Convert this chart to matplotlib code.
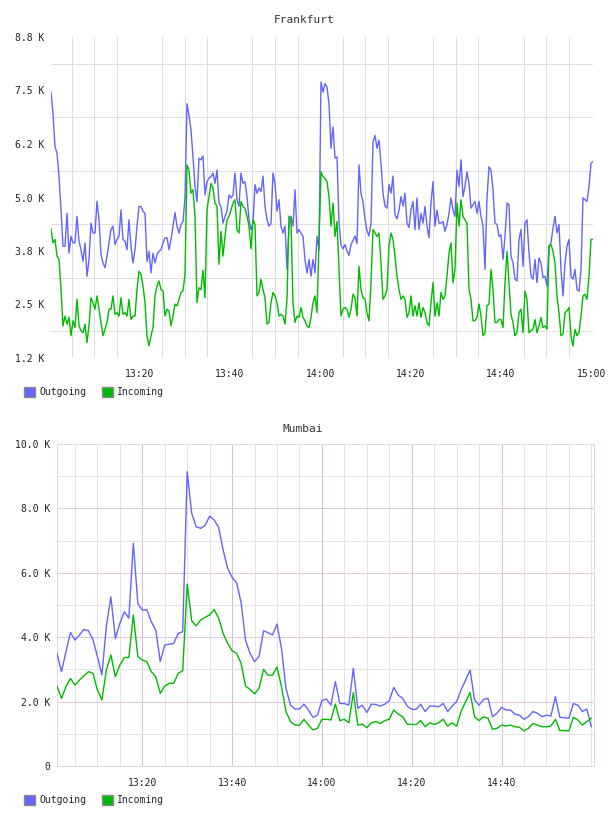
import numpy as np
import pandas as pd
import matplotlib
matplotlib.use("Agg")
import matplotlib.pyplot as plt
import matplotlib.dates as mdates
from matplotlib.patches import Rectangle
from matplotlib.ticker import FixedLocator

# ---------------- data ----------------
series_names = ["Outgoing", "Incoming"]
series_colors = ["#6464ff", "#00bb00"]

frankfurt_start = "2024-01-01 13:00:26"
frankfurt_step_ms = 26550
frankfurt_out_k = [
    7.46, 6.96, 6.19, 6.03, 5.49, 4.71, 3.86, 3.86, 4.63, 3.70,
    4.09, 3.94, 3.94, 4.56, 3.98, 3.78, 3.51, 3.94, 3.16, 3.55,
    4.40, 4.17, 4.17, 4.91, 4.48, 3.67, 3.47, 3.36, 3.63, 3.94,
    4.25, 4.33, 3.90, 4.02, 4.09, 4.71, 4.02, 3.98, 3.78, 4.48,
    3.86, 3.47, 3.78, 4.33, 4.79, 4.79, 4.68, 4.63, 3.51, 3.74,
    3.24, 3.70, 3.47, 3.67, 3.74, 3.78, 3.94, 4.06, 4.06, 3.78,
    4.02, 4.33, 4.65, 4.33, 4.17, 4.37, 4.44, 5.00,
    7.19, 6.92, 6.57, 5.95, 5.26, 4.90, 5.92, 5.88, 5.97, 5.06,
    5.37, 5.45, 5.49, 5.57, 5.33, 5.64, 4.87, 4.79, 4.40, 4.56,
    4.68, 5.06, 4.99, 5.06, 5.57, 4.95, 4.79, 5.57, 5.33, 5.37,
    5.02, 4.48, 4.25, 4.40, 5.30, 5.10, 5.22, 5.14, 5.50, 4.79,
    4.48, 4.33, 4.40, 5.57, 5.33, 4.68, 4.95, 4.33, 4.17, 4.33,
    3.32, 4.33, 4.56, 4.33, 5.18, 4.17, 4.25, 4.17, 4.09, 3.55,
    3.24, 3.55, 3.16, 3.55, 3.24, 4.09, 3.78,
    7.70, 7.46, 7.66, 7.58, 7.19, 6.15, 6.65, 5.92, 5.95, 4.40,
    3.90, 3.80, 3.90, 3.75, 3.65, 3.90, 4.00, 4.10, 3.92, 5.76,
    5.10, 4.90, 4.50, 4.22, 4.10, 4.40, 6.30, 6.45, 6.15, 6.34,
    5.80, 5.10, 4.80, 4.75, 5.30, 5.10, 5.50, 4.60, 4.50, 4.70,
    5.02, 4.80, 5.10, 4.40, 4.30, 4.71, 4.91, 4.25, 4.99, 4.25,
    4.63, 4.40, 4.79, 4.33, 4.06, 4.87, 5.37, 4.33, 4.71, 4.40,
    4.40, 4.44, 4.21, 4.37, 4.63, 4.99, 4.71,
    4.56, 5.64, 5.26, 5.88, 5.02, 5.26, 5.60, 5.33, 4.75, 4.83,
    4.91, 4.63, 4.91, 4.56, 4.33, 3.32, 4.99, 5.72, 5.64, 5.18,
    4.40, 4.37, 4.09, 4.13, 3.55, 4.09, 4.87, 4.83, 3.63, 3.47,
    3.09, 3.05, 4.02, 4.25, 3.39, 4.40, 4.48, 3.70, 3.16, 3.09,
    3.55, 3.01, 3.59, 3.47, 3.13, 3.16, 2.93, 3.86, 3.94, 4.29,
    4.56, 4.17, 4.37, 3.32, 2.70, 3.47, 3.86, 4.02, 3.16, 3.09,
    3.32, 2.85, 2.81, 3.32, 4.99, 4.95, 4.91, 5.26, 5.80, 5.84,
]
frankfurt_in_k = [
    4.27, 3.94, 4.02, 3.63, 3.55, 2.85, 2.00, 2.23, 2.04, 2.20,
    1.77, 2.12, 1.96, 2.62, 2.00, 1.89, 1.84, 2.04, 1.61, 2.00,
    2.66, 2.54, 2.39, 2.70, 2.39, 2.08, 1.77, 1.92, 2.08, 2.39,
    2.39, 2.70, 2.27, 2.31, 2.23, 2.66, 2.27, 2.31, 2.23, 2.62,
    2.15, 2.23, 2.23, 2.85, 3.28, 3.20, 2.93, 2.54, 1.77, 1.53,
    1.77, 1.96, 2.70, 2.93, 3.05, 2.85, 2.82, 2.23, 2.39, 2.35,
    2.00, 2.23, 2.51, 2.47, 2.62, 2.78, 2.82, 3.20,
    5.76, 5.64, 5.10, 5.18, 4.56, 2.54, 2.89, 2.85, 3.30, 2.66,
    4.71, 5.02, 5.33, 5.22, 4.87, 4.79, 3.44, 4.21, 3.63, 4.09,
    4.48, 4.56, 4.71, 4.87, 4.95, 4.25, 4.17, 4.91, 4.79, 4.75,
    4.56, 4.33, 3.80, 4.48, 4.37, 2.70, 2.78, 3.09, 2.85, 2.66,
    2.04, 2.08, 2.54, 2.78, 2.70, 2.54, 2.23, 2.27, 2.23, 2.04,
    2.62, 4.56, 4.48, 2.54, 2.08, 2.23, 2.20, 2.43, 2.20, 2.12,
    2.00, 1.96, 2.20, 2.54, 2.70, 2.31, 4.00,
    5.60, 5.49, 5.45, 5.37, 5.02, 4.33, 4.87, 4.09, 4.44, 3.32,
    2.23, 2.39, 2.43, 2.39, 2.20, 2.39, 2.74, 2.66, 2.23, 3.39,
    2.85, 2.66, 2.62, 2.31, 2.12, 3.01, 4.25, 4.17, 4.09, 4.17,
    3.47, 2.62, 2.70, 2.85, 3.86, 4.17, 4.02, 3.63, 3.16, 2.85,
    2.62, 2.70, 2.62, 2.20, 2.31, 2.70, 2.23, 2.47, 2.23, 2.54,
    2.20, 2.43, 2.31, 2.08, 2.00, 2.54, 3.01, 2.23, 2.54, 2.23,
    2.78, 2.62, 2.70, 3.16, 3.70, 3.94, 3.01,
    3.32, 4.87, 4.33, 4.95, 4.56, 4.48, 4.40, 2.85, 2.62, 2.12,
    2.12, 2.20, 2.51, 2.23, 1.77, 1.84, 2.47, 2.51, 3.32, 2.85,
    2.08, 2.08, 2.15, 2.15, 1.96, 3.01, 3.74, 3.01, 2.27, 2.08,
    1.77, 1.84, 2.31, 2.39, 1.84, 2.81, 2.62, 1.84, 1.89, 1.92,
    2.15, 1.84, 2.00, 2.20, 1.96, 2.00, 1.92, 3.86, 3.90, 3.74,
    3.47, 2.70, 2.31, 1.77, 1.81, 2.31, 2.35, 2.43, 1.77, 1.53,
    1.92, 1.77, 1.84, 2.23, 2.70, 2.74, 2.62, 3.16, 4.02, 4.02,
]

mumbai_start = "2024-01-01 13:01:00"
mumbai_step = "1min"
mumbai_out_k = [
    3.50, 2.93, 3.55, 4.15, 3.91, 4.07, 4.24, 4.20, 3.93, 3.40,
    2.83, 4.35, 5.25, 3.96, 4.43, 4.79, 4.59, 6.92, 5.05, 4.84,
    4.86, 4.48, 4.22, 3.24, 3.76, 3.78, 3.81, 4.12, 4.17, 9.14,
    7.85, 7.43, 7.38, 7.48, 7.76, 7.64, 7.41, 6.71, 6.14, 5.86,
    5.69, 5.08, 3.90, 3.50, 3.24, 3.40, 4.20, 4.14, 4.07, 4.41,
    3.65, 2.41, 1.89, 1.77, 1.77, 1.92, 1.74, 1.51, 1.58, 2.03,
    2.08, 1.89, 2.62, 1.94, 1.94, 1.89, 3.03, 1.79, 1.89, 1.66,
    1.92, 1.91, 1.86, 1.92, 2.03, 2.44, 2.20, 2.10, 1.86, 1.76,
    1.76, 1.92, 1.69, 1.86, 1.86, 1.84, 1.94, 1.69, 1.86, 2.00,
    2.36, 2.67, 2.98, 2.05, 1.89, 2.07, 2.10, 1.53, 1.64, 1.82,
    1.74, 1.74, 1.61, 1.58, 1.45, 1.53, 1.69, 1.64, 1.53, 1.58,
    1.55, 2.15, 1.51, 1.50, 1.48, 1.94, 1.89, 1.69, 1.77, 1.22,
]
mumbai_in_k = [
    2.48, 2.10, 2.46, 2.72, 2.51, 2.67, 2.80, 2.93, 2.88, 2.36,
    2.05, 2.98, 3.45, 2.77, 3.14, 3.37, 3.37, 4.69, 3.40, 3.29,
    3.24, 2.93, 2.77, 2.26, 2.48, 2.57, 2.57, 2.88, 2.96, 5.65,
    4.51, 4.35, 4.53, 4.62, 4.69, 4.86, 4.59, 4.12, 3.81, 3.58,
    3.50, 3.19, 2.48, 2.38, 2.24, 2.41, 3.00, 2.82, 2.82, 3.08,
    2.46, 1.69, 1.38, 1.27, 1.27, 1.45, 1.27, 1.12, 1.17, 1.45,
    1.45, 1.43, 1.92, 1.41, 1.45, 1.34, 2.28, 1.27, 1.30, 1.19,
    1.34, 1.38, 1.32, 1.41, 1.45, 1.74, 1.61, 1.53, 1.30, 1.29,
    1.29, 1.41, 1.22, 1.34, 1.29, 1.34, 1.45, 1.24, 1.34, 1.24,
    1.69, 2.00, 2.28, 1.53, 1.41, 1.53, 1.48, 1.14, 1.17, 1.27,
    1.24, 1.27, 1.22, 1.20, 1.09, 1.17, 1.32, 1.27, 1.22, 1.22,
    1.24, 1.45, 1.10, 1.10, 1.09, 1.51, 1.43, 1.27, 1.38, 1.48,
]

frankfurt_yticks = [1250, 2500, 3750, 5000, 6250, 7500, 8750]
frankfurt_ylabels = ["1.2 K", "2.5 K", "3.8 K", "5.0 K", "6.2 K", "7.5 K", "8.8 K"]
frankfurt_xticks = ["13:20", "13:40", "14:00", "14:20", "14:40", "15:00"]
mumbai_yticks = [0, 2000, 4000, 6000, 8000, 10000]
mumbai_ylabels = ["0", "2.0 K", "4.0 K", "6.0 K", "8.0 K", "10.0 K"]
mumbai_xticks = ["13:20", "13:40", "14:00", "14:20", "14:40"]
day = "2024-01-01"

# ---------------- figure ----------------
W, H = 608, 816
fig = plt.figure(figsize=(W / 100, H / 100), dpi=100)
MONO = "DejaVu Sans Mono"
TXT = "#222222"
PX = 0.72  # one pixel in points


def fx(px):
    return px / W


def fy(py):
    return 1 - py / H


ax1 = fig.add_axes([fx(51), fy(358), fx(542), 321 / H])
ax2 = fig.add_axes([fx(57), fy(766), fx(537), 322 / H])

# Frankfurt
t1 = pd.date_range(frankfurt_start, periods=len(frankfurt_out_k), freq=f"{frankfurt_step_ms}ms")
ax1.plot(t1, np.array(frankfurt_out_k) * 1000, color=series_colors[0], lw=1.0, zorder=3)
ax1.plot(t1, np.array(frankfurt_in_k) * 1000, color=series_colors[1], lw=1.0, zorder=3)
ax1.set_xlim(t1[0], t1[-1])
ax1.set_ylim(frankfurt_yticks[0], frankfurt_yticks[-1])
for s in ax1.spines.values():
    s.set_visible(False)
ax1.set_yticks(frankfurt_yticks)
ax1.set_yticklabels(frankfurt_ylabels)
mids = [(a + b) / 2 for a, b in zip(frankfurt_yticks[:-1], frankfurt_yticks[1:])]
ax1.yaxis.set_minor_locator(FixedLocator(mids))
ax1.set_xticks(pd.to_datetime([f"{day} {s}" for s in frankfurt_xticks]))
ax1.set_xticklabels(frankfurt_xticks)
ax1.xaxis.set_minor_locator(mdates.MinuteLocator(byminute=range(0, 60, 5)))
ax1.set_axisbelow(True)
ax1.grid(False)
ax1.grid(which="minor", axis="both", color="#dedede", lw=PX)
ax1.tick_params(which="both", length=0)
ax1.tick_params(axis="y", pad=5, labelsize=7, labelcolor=TXT)
ax1.tick_params(axis="x", pad=8, labelsize=7, labelcolor=TXT)
for lab in ax1.get_xticklabels() + ax1.get_yticklabels():
    lab.set_fontfamily(MONO)

# Mumbai
t2 = pd.date_range(mumbai_start, periods=len(mumbai_out_k), freq=mumbai_step)
ax2.plot(t2, np.array(mumbai_out_k) * 1000, color=series_colors[0], lw=1.0, zorder=3)
ax2.plot(t2, np.array(mumbai_in_k) * 1000, color=series_colors[1], lw=1.0, zorder=3)
ax2.set_xlim(t2[0], t2[-1] + pd.Timedelta(seconds=36))
ax2.set_ylim(mumbai_yticks[0], mumbai_yticks[-1])
for s in ax2.spines.values():
    s.set_color("#e8d2e8")
    s.set_linewidth(PX)
ax2.set_yticks(mumbai_yticks)
ax2.set_yticklabels(mumbai_ylabels)
ax2.yaxis.set_minor_locator(FixedLocator(list(range(1000, 10000, 2000))))
ax2.set_xticks(pd.to_datetime([f"{day} {s}" for s in mumbai_xticks]))
ax2.set_xticklabels(mumbai_xticks)
ax2.xaxis.set_minor_locator(mdates.MinuteLocator(byminute=range(0, 60, 5)))
ax2.set_axisbelow(True)
ax2.grid(which="minor", axis="both", color="#e4e4e4", lw=PX)
ax2.grid(which="major", axis="x", color="#d8bcd8", lw=PX)
ax2.grid(which="major", axis="y", color="#e2c8e2", lw=PX)
ax2.tick_params(which="both", length=0)
ax2.tick_params(axis="y", pad=5, labelsize=7, labelcolor=TXT)
ax2.tick_params(axis="x", pad=9, labelsize=7, labelcolor=TXT)
for lab in ax2.get_xticklabels() + ax2.get_yticklabels():
    lab.set_fontfamily(MONO)

# titles
fig.text(fx(304.5), fy(20), "Frankfurt", ha="center", va="center",
         fontsize=8, family=MONO, color="#333333")
fig.text(fx(303), fy(429), "Mumbai", ha="center", va="center",
         fontsize=8, family=MONO, color="#333333")


# legends
def legend(yc):
    xs = [24, 102]
    for x0, name, col in zip(xs, series_names, series_colors):
        fig.add_artist(Rectangle((fx(x0), fy(yc + 5)), fx(11), 10 / H,
                                 transform=fig.transFigure, facecolor=col,
                                 edgecolor="#8a8a8a", lw=1.0))
        fig.text(fx(x0 + 15), fy(yc), name, ha="left", va="center",
                 fontsize=7, family=MONO, color=TXT)


legend(392)
legend(800)

fig.savefig("out.png", dpi=100)
